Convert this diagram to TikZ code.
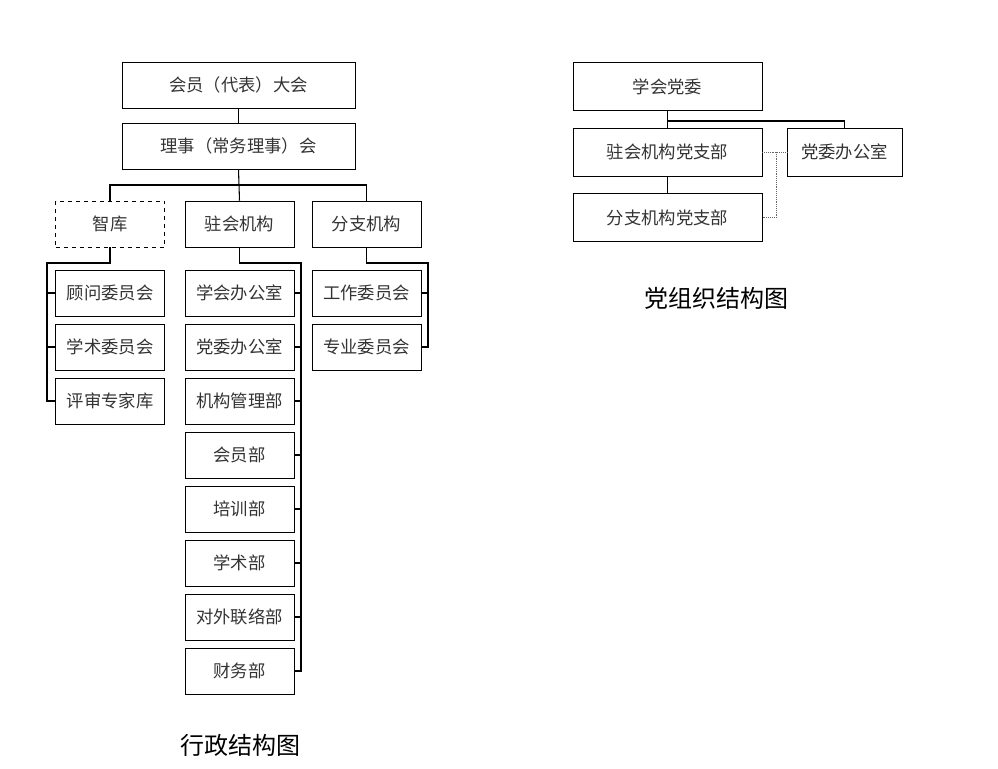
\documentclass[tikz,border=0pt]{standalone}
\usepackage{fontspec}
\setmainfont{Noto Sans CJK SC}
\usetikzlibrary{positioning}
\begin{document}
\begin{tikzpicture}[x=0.75pt, y=-0.75pt,
    unit/.style={rectangle, draw, minimum height=34.5pt, inner sep=0pt,
                 font=\fontsize{13}{15}\selectfont, text=black!80},
    wide/.style={unit, minimum width=174.75pt},
    mid/.style={unit, minimum width=81.75pt},
    pwide/.style={unit, minimum width=141.75pt, minimum height=36pt},
    link/.style={draw, line width=0.8pt}]
    \useasboundingbox (0,0) rectangle (998,768);

    % 行政结构
    \node[wide] (meet) at (238.5,85) {会员（代表）大会};
    \node[wide] (board) at (238.5,146) {理事（常务理事）会};
    \node[mid, dashed] (think) at (110,224) {智库};
    \node[mid] (resid) at (239.5,224) {驻会机构};
    \node[mid] (branch) at (366.5,224) {分支机构};

    \foreach \name/\txt [count=\i] in {adv/顾问委员会, acad/学术委员会, jury/评审专家库}
        \node[mid] (\name) at (110,{239+54*\i}) {\txt};
    \foreach \name/\txt [count=\i] in {off/学会办公室, party/党委办公室, mgmt/机构管理部,
            memb/会员部, train/培训部, sci/学术部, ext/对外联络部, fin/财务部}
        \node[mid] (\name) at (239.5,{239+54*\i}) {\txt};
    \foreach \name/\txt [count=\i] in {work/工作委员会, spec/专业委员会}
        \node[mid] (\name) at (366.5,{239+54*\i}) {\txt};

    \draw[link] (meet) -- (board);
    \draw[link] (board.south) -- (resid.north);
    \draw[link] (think.north) |- (238.5,185) -| (branch.north);

    \draw[link] (think.south) -- (110,263) -| (47,401) -- (jury.west);
    \foreach \n in {adv, acad} \draw[link] (47,0 |- \n.west) -- (\n.west);
    \draw[link] (resid.south) -- (239.5,263) -| (301,671) -- (fin.east);
    \foreach \n in {off, party, mgmt, memb, train, sci, ext} \draw[link] (\n.east) -- (301,0 |- \n.east);
    \draw[link] (branch.south) -- (366.5,263) -| (428,347) -- (spec.east);
    \draw[link] (work.east) -- (428,293);

    % 党组织结构
    \node[pwide] (pc) at (667.5,86.5) {学会党委};
    \node[pwide] (rb) at (667.5,152) {驻会机构党支部};
    \node[pwide] (bb) at (667.5,217.5) {分支机构党支部};
    \node[unit, minimum width=86.25pt, minimum height=36pt] (po) at (844.5,152) {党委办公室};
    \draw[link] (pc) -- (rb);
    \draw[link] (rb) -- (bb);
    \draw[link] (pc.south) -- (667.5,121) -| (po.north);
    \draw[densely dotted, black!60] (rb.east) -- (po.west);
    \draw[densely dotted, black!60] (776,152) |- (bb.east);

    % 标题
    \node[font=\fontsize{18}{20}\selectfont] (cap1) at (240,745) {行政结构图};
    \node[font=\fontsize{18}{20}\selectfont] (cap2) at (716,298) {党组织结构图};
\end{tikzpicture}
\end{document}
